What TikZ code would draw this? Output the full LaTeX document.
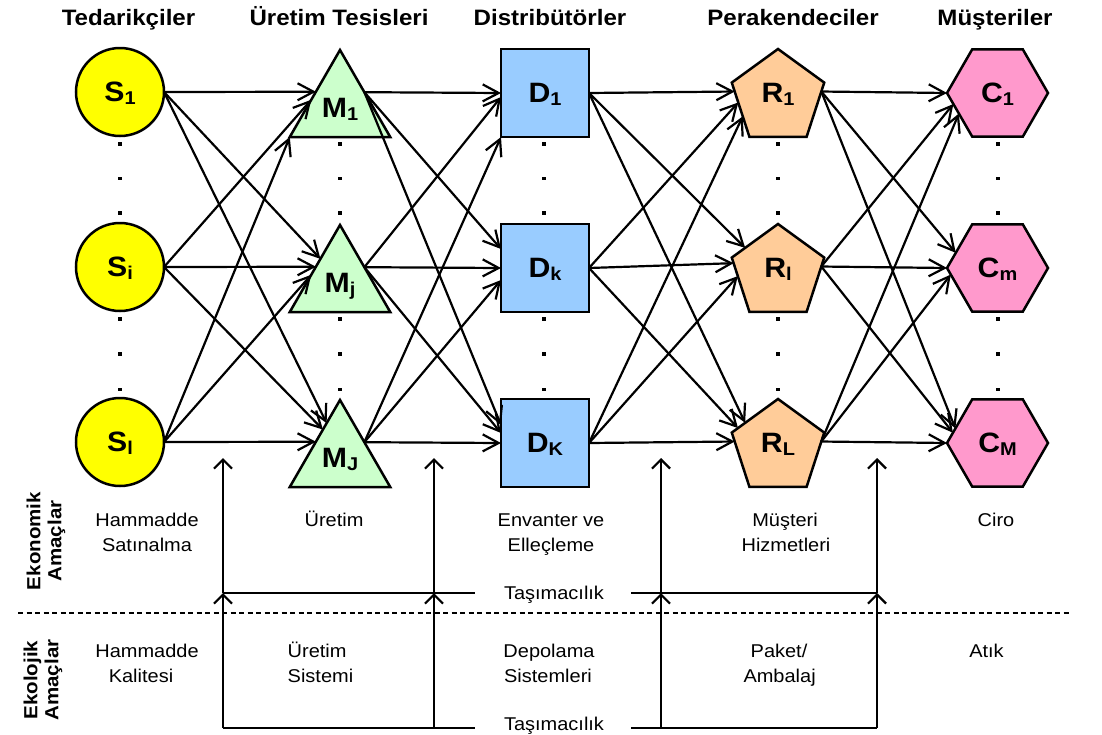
\documentclass[tikz,border=0pt]{standalone}
\usepackage{fontspec}
\setmainfont{Liberation Sans}[FakeStretch=1.08]
\usetikzlibrary{shapes.geometric,arrows.meta,calc}
\definecolor{cS}{HTML}{FFFF00}
\definecolor{cM}{HTML}{CCFFCC}
\definecolor{cD}{HTML}{99CCFF}
\definecolor{cR}{HTML}{FFCC99}
\definecolor{cC}{HTML}{FF99CC}
\newcommand{\nlab}[2]{\fontsize{28}{30}\selectfont\bfseries #1\raisebox{-3pt}[0pt][0pt]{\fontsize{18.5}{20}\selectfont #2}}
\newcommand{\rlab}[2]{\raisebox{4.6pt}[\height][\depth]{\nlab{#1}{#2}}}
\tikzset{
 nd/.style={draw=black, line width=2.5pt, inner sep=0pt, outer sep=0pt},
 sup/.style={nd, circle, fill=cS, minimum size=88pt},
 man/.style={nd, regular polygon, regular polygon sides=3, fill=cM, minimum size=116pt},
 dis/.style={nd, rectangle, fill=cD, minimum width=88pt, minimum height=88pt},
 ret/.style={nd, regular polygon, regular polygon sides=5, fill=cR, minimum size=97.2pt},
 cus/.style={nd, regular polygon, regular polygon sides=6, fill=cC, minimum size=101pt},
 arr/.style={line width=2.2pt, -{Straight Barb[length=16pt,width=17pt]}},
 arrb/.style={line width=2.2pt, -{Straight Barb[length=9pt,width=18pt]}},
 hdr/.style={font=\fontsize{22.3}{26}\selectfont\bfseries, anchor=base, inner sep=0pt},
 txt/.style={font=\fontsize{18.5}{22}\selectfont, anchor=base, inner sep=0pt},
 side/.style={font=\fontsize{19}{21}\selectfont\bfseries, rotate=90, align=center, inner sep=0pt},
 plain/.style={line width=2.2pt},
}
\begin{document}
\begin{tikzpicture}[x=1pt,y=-1pt]
\fill[white] (0,0) rectangle (1102,734);
\useasboundingbox (0,0) rectangle (1102,734);

% headers
\node[hdr] (h1) at (128.5,25) {Tedarikçiler};
\node[hdr] (h2) at (339,25) {Üretim Tesisleri};
\node[hdr] (h3) at (550,25) {Distribütörler};
\node[hdr] (h4) at (793,25) {Perakendeciler};
\node[hdr] (h5) at (995,25) {Müşteriler};

% nodes
\node[sup] (S1) at (120,92) {\nlab{S}{1}};
\node[sup] (Si) at (120,267) {\nlab{S}{i}};
\node[sup] (Sl) at (120,442) {\nlab{S}{l}};
\node[man] (M1) at (340,108) {\nlab{M}{1}};
\node[man] (Mj) at (340,283) {\nlab{M}{j}};
\node[man] (MJ) at (340,458) {\nlab{M}{J}};
\node[dis] (D1) at (545,93) {\nlab{D}{1}};
\node[dis] (Dk) at (545,268) {\nlab{D}{k}};
\node[dis] (DK) at (545,443) {\nlab{D}{K}};
\node[ret] (R1) at (778,97.6) {\rlab{R}{1}};
\node[ret] (Rl) at (778,272.6) {\rlab{R}{l}};
\node[ret] (RL) at (778,447.6) {\rlab{R}{L}};
\node[cus] (C1) at (997.5,93) {\nlab{C}{1}};
\node[cus] (Cm) at (997.5,268) {\nlab{C}{m}};
\node[cus] (CM) at (997.5,443) {\nlab{C}{M}};

% dots
\foreach \x in {120,340,544,778,998}
  \foreach \y in {144,178.5,213,319,354,389.5}
    \fill (\x-1.9,\y-1.9) rectangle (\x+1.9,\y+1.9);

% S -> M
\foreach \s/\t/\a in {S1/M1/146.5, Si/M1/164.5, Sl/M1/210, S1/Mj/129, Si/Mj/146.5, Sl/Mj/164.5, S1/MJ/111, Si/MJ/121.7, Sl/MJ/146.5}
  \draw[arr] (\s.east) -- (\t.\a);
% M -> D
\foreach \s/\t/\o in {M1/D1/0, Mj/D1/4, M1/Dk/-19, Mj/Dk/0, MJ/Dk/12, M1/DK/-18, Mj/DK/-10, MJ/DK/0}
  \draw[arr] (\s.33.5) -- ($(\t.west)+(0,\o)$);
\draw[arr] (MJ.33.5) -- (D1.south west);
% D -> R
\foreach \s/\t/\a in {D1/R1/172.9, Dk/R1/187.5, DK/R1/208.3, D1/Rl/143.8, Dk/Rl/168, DK/Rl/185.8, D1/RL/143.8, Dk/RL/154.4, DK/RL/172.9}
  \draw[arr] (\s.east) -- (\t.\a);
% R -> C
\foreach \s/\t/\a in {R1/C1/180, Rl/C1/194.8, RL/C1/208.5, R1/Cm/160.6, Rl/Cm/180, RL/Cm/188.7, R1/CM/161.4, Rl/CM/167.6, RL/CM/180}
  \draw[arr] (\s.8.3) -- (\t.\a);

% side labels
\node[side] (eko) at (46,541) {Ekonomik\\Amaçlar};
\node[side] (ekl) at (43,680) {Ekolojik\\Amaçlar};

% economic texts
\node[txt] (e1a) at (147,526) {Hammadde};
\node[txt] (e1b) at (147,551) {Satınalma};
\node[txt] (e2a) at (334,526) {Üretim};
\node[txt] (e3a) at (551,526) {Envanter ve};
\node[txt] (e3b) at (551,551) {Elleçleme};
\node[txt] (e4a) at (785,526) {Müşteri};
\node[txt] (e4b) at (786,551) {Hizmetleri};
\node[txt] (e5a) at (996,526) {Ciro};
% ecological texts
\node[txt] (k1a) at (147,657) {Hammadde};
\node[txt] (k1b) at (141,682) {Kalitesi};
\node[txt, anchor=base west] (k2a) at (287.5,657) {Üretim};
\node[txt, anchor=base west] (k2b) at (287.5,682) {Sistemi};
\node[txt] (k3a) at (549,657) {Depolama};
\node[txt] (k3b) at (548,682) {Sistemleri};
\node[txt] (k4a) at (779,657) {Paket/};
\node[txt] (k4b) at (779.6,682) {Ambalaj};
\node[txt] (k5a) at (986.5,657) {Atık};

% transport
\node[txt] (tas1) at (554,599) {Taşımacılık};
\node[txt] (tas2) at (554,730) {Taşımacılık};
\foreach \x in {223,434,661,877} {
  \draw[arrb] (\x,593) -- (\x,458);
  \draw[arrb] (\x,728) -- (\x,593);
}
\draw[plain] (223,593) -- (475,593) (631,593) -- (877,593);
\draw[plain] (223,728) -- (475,728) (631,728) -- (877,728);

% divider
\draw[line width=2.2pt, dash pattern=on 5pt off 3.5pt] (18,612.7) -- (1068.6,612.7);
\end{tikzpicture}
\end{document}
